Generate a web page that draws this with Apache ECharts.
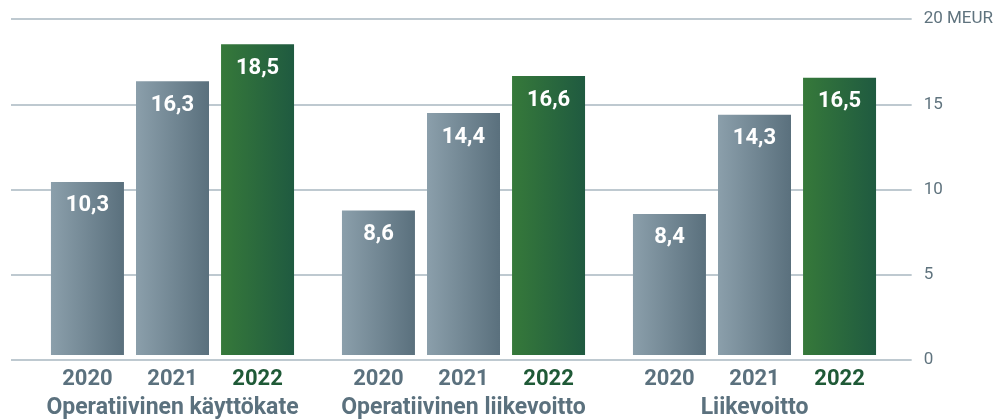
<!DOCTYPE html>
<html><head><meta charset="utf-8">
<script src="https://cdn.jsdelivr.net/npm/echarts@6/dist/echarts.min.js"></script>
<style>html,body{margin:0;padding:0;background:#fff}#c{width:996px;height:420px}</style>
</head><body><div id="c"></div>
<script>
var categories = ['Operatiivinen käyttökate', 'Operatiivinen liikevoitto', 'Liikevoitto'];
var years = ['2020', '2021', '2022'];
var values2020 = [10.3, 8.6, 8.4];
var values2021 = [16.3, 14.4, 14.3];
var values2022 = [18.5, 16.6, 16.5];
var yTicks = [0, 5, 10, 15, 20];
var unit = 'MEUR';

var FONT = "Roboto, 'Liberation Sans', sans-serif";
var grayGrad = new echarts.graphic.LinearGradient(0, 0, 1, 0, [{offset: 0, color: '#8b9fab'}, {offset: 1, color: '#5a707d'}]);
var greenGrad = new echarts.graphic.LinearGradient(0, 0, 1, 0, [{offset: 0, color: '#36793a'}, {offset: 1, color: '#1f5a40'}]);
var yearColors = ['#5b717e', '#5b717e', '#1f5a37'];
var fills = [grayGrad, grayGrad, greenGrad];
var allValues = [values2020, values2021, values2022];

var series = [];
years.forEach(function (y, i) {
  series.push({
    name: y, type: 'bar', xAxisIndex: 1, yAxisIndex: 1,
    data: allValues[i], barWidth: 73, barGap: '16.5%',
    itemStyle: {color: fills[i]},
    label: {show: true, position: 'insideTop', distance: 13, color: '#fff', fontFamily: FONT, fontWeight: 'bold', fontSize: 22,
      formatter: function (p) { return p.value.toFixed(1).replace('.', ','); }}
  });
});
years.forEach(function (y, i) {
  series.push({
    name: y + ' label', type: 'bar', xAxisIndex: 2, yAxisIndex: 2,
    data: categories.map(function () { return 0; }), barWidth: 73, barGap: '16.5%',
    itemStyle: {color: 'transparent'}, silent: true,
    label: {show: true, position: 'bottom', distance: 8, color: yearColors[i], fontFamily: FONT, fontWeight: 'bold', fontSize: 22,
      formatter: function () { return y; }}
  });
});

var chart = echarts.init(document.getElementById('c'));
chart.setOption({
  animation: false,
  grid: [
    {left: 11, right: 83, top: 19, bottom: 60},
    {left: 27, right: 96, top: 19, bottom: 60},
    {left: 27, right: 96, top: 19, bottom: 60}
  ],
  xAxis: [
    {gridIndex: 0, type: 'category', data: categories, show: false},
    {gridIndex: 1, type: 'category', data: categories, axisLine: {show: false}, axisTick: {show: false},
      axisLabel: {margin: 42, color: '#5b717e', fontFamily: FONT, fontWeight: 'bold', fontSize: 23, interval: 0}},
    {gridIndex: 2, type: 'category', data: categories, show: false}
  ],
  yAxis: [
    {gridIndex: 0, type: 'value', position: 'right', min: 0, max: 20, interval: 5,
      axisLine: {show: false}, axisTick: {show: false},
      splitLine: {lineStyle: {color: '#a8b7c0', width: 1.5}},
      axisLabel: {margin: 12, color: '#5f737e', fontFamily: FONT, fontSize: 17,
        formatter: function (v) { return yTicks.indexOf(v) === yTicks.length - 1 ? v + ' ' + unit : String(v); }}},
    {gridIndex: 1, type: 'value', min: 0, max: 20, interval: 5, show: false},
    {gridIndex: 2, type: 'value', min: 0, max: 20, interval: 5, show: false}
  ],
  series: series
});
</script></body></html>
